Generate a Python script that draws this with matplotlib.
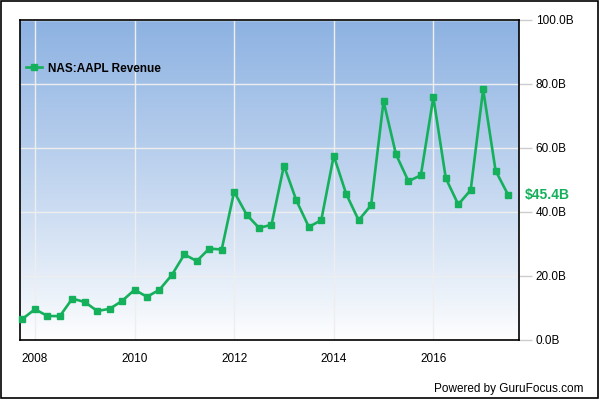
import matplotlib
matplotlib.use('Agg')
import matplotlib.pyplot as plt
import numpy as np
from matplotlib.patches import Rectangle

plt.rcParams['font.family'] = ['Liberation Sans', 'DejaVu Sans']

# quarterly revenue, billions USD, quarters ending Sep 2007 .. Jun 2017
quarters = [2007.75 + 0.25 * i for i in range(40)]
revenue = [
    6.6, 9.61, 7.51, 7.46, 12.92, 11.88, 9.08, 9.73, 12.21, 15.68,
    13.50, 15.70, 20.34, 26.74, 24.67, 28.57, 28.27, 46.33, 39.19, 35.02,
    36.00, 54.51, 43.60, 35.32, 37.47, 57.59, 45.65, 37.43, 42.12, 74.60,
    58.01, 49.61, 51.50, 75.87, 50.56, 42.36, 46.85, 78.35, 52.90, 45.41,
]
year_ticks = [2008, 2010, 2012, 2014, 2016]
value_ticks = [0, 20, 40, 60, 80, 100]
series_name = 'NAS:AAPL Revenue'
green = '#15b05b'

fig = plt.figure(figsize=(6, 4), dpi=100)
fig.patches.append(Rectangle((0.001, 0.006), 0.996, 0.992, transform=fig.transFigure,
                             fill=False, edgecolor='black', linewidth=1.2))
ax = fig.add_axes([20 / 600, 60 / 400, 499 / 600, 320 / 400])

x_lo, x_hi = 2007.70, 2017.72
ax.set_xlim(x_lo, x_hi)
ax.set_ylim(0, 100)

# vertical gradient background
grad = np.linspace(0, 1, 256).reshape(-1, 1)
top = np.array([141, 178, 226]) / 255
bottom = np.array([255, 255, 255]) / 255
img = (bottom + (top - bottom) * grad[..., None] ** 0.9)
ax.imshow(img, extent=[x_lo, x_hi, 0, 100], origin='lower', aspect='auto', zorder=0)

ax.set_xticks(year_ticks)
ax.set_xticklabels([str(y) for y in year_ticks], fontsize=8.5)
ax.set_yticks(value_ticks)
ax.set_yticklabels(['{:.1f}B'.format(v) for v in value_ticks], fontsize=8.5)
ax.yaxis.tick_right()
ax.tick_params(axis='y', length=9, color='#cccccc', pad=3, width=1)
ax.tick_params(axis='x', length=0, pad=9)
ax.grid(True, color='#eeeeee', linewidth=1, zorder=1)
for s in ax.spines.values():
    s.set_color('black')
    s.set_linewidth(1.2)

ax.plot(quarters, revenue, color=green, linewidth=1.9, marker='s', markersize=4.6,
        label=series_name, zorder=3, clip_on=False)

leg = ax.legend(loc='upper left', bbox_to_anchor=(-0.01, 0.9), frameon=False,
                handlelength=1.4, handletextpad=0.5, prop={'weight': 'bold', 'size': 8.5})

ax.annotate('\\${:.1f}B'.format(revenue[-1]), xy=(1.0, revenue[-1]),
            xycoords=('axes fraction', 'data'), xytext=(4, 0), textcoords='offset points',
            color=green, fontsize=10, fontweight='bold', va='center', ha='left')

fig.text(0.972, 0.027, 'Powered by GuruFocus.com', ha='right', va='center', fontsize=8.5)

fig.savefig('out.png', dpi=100)
